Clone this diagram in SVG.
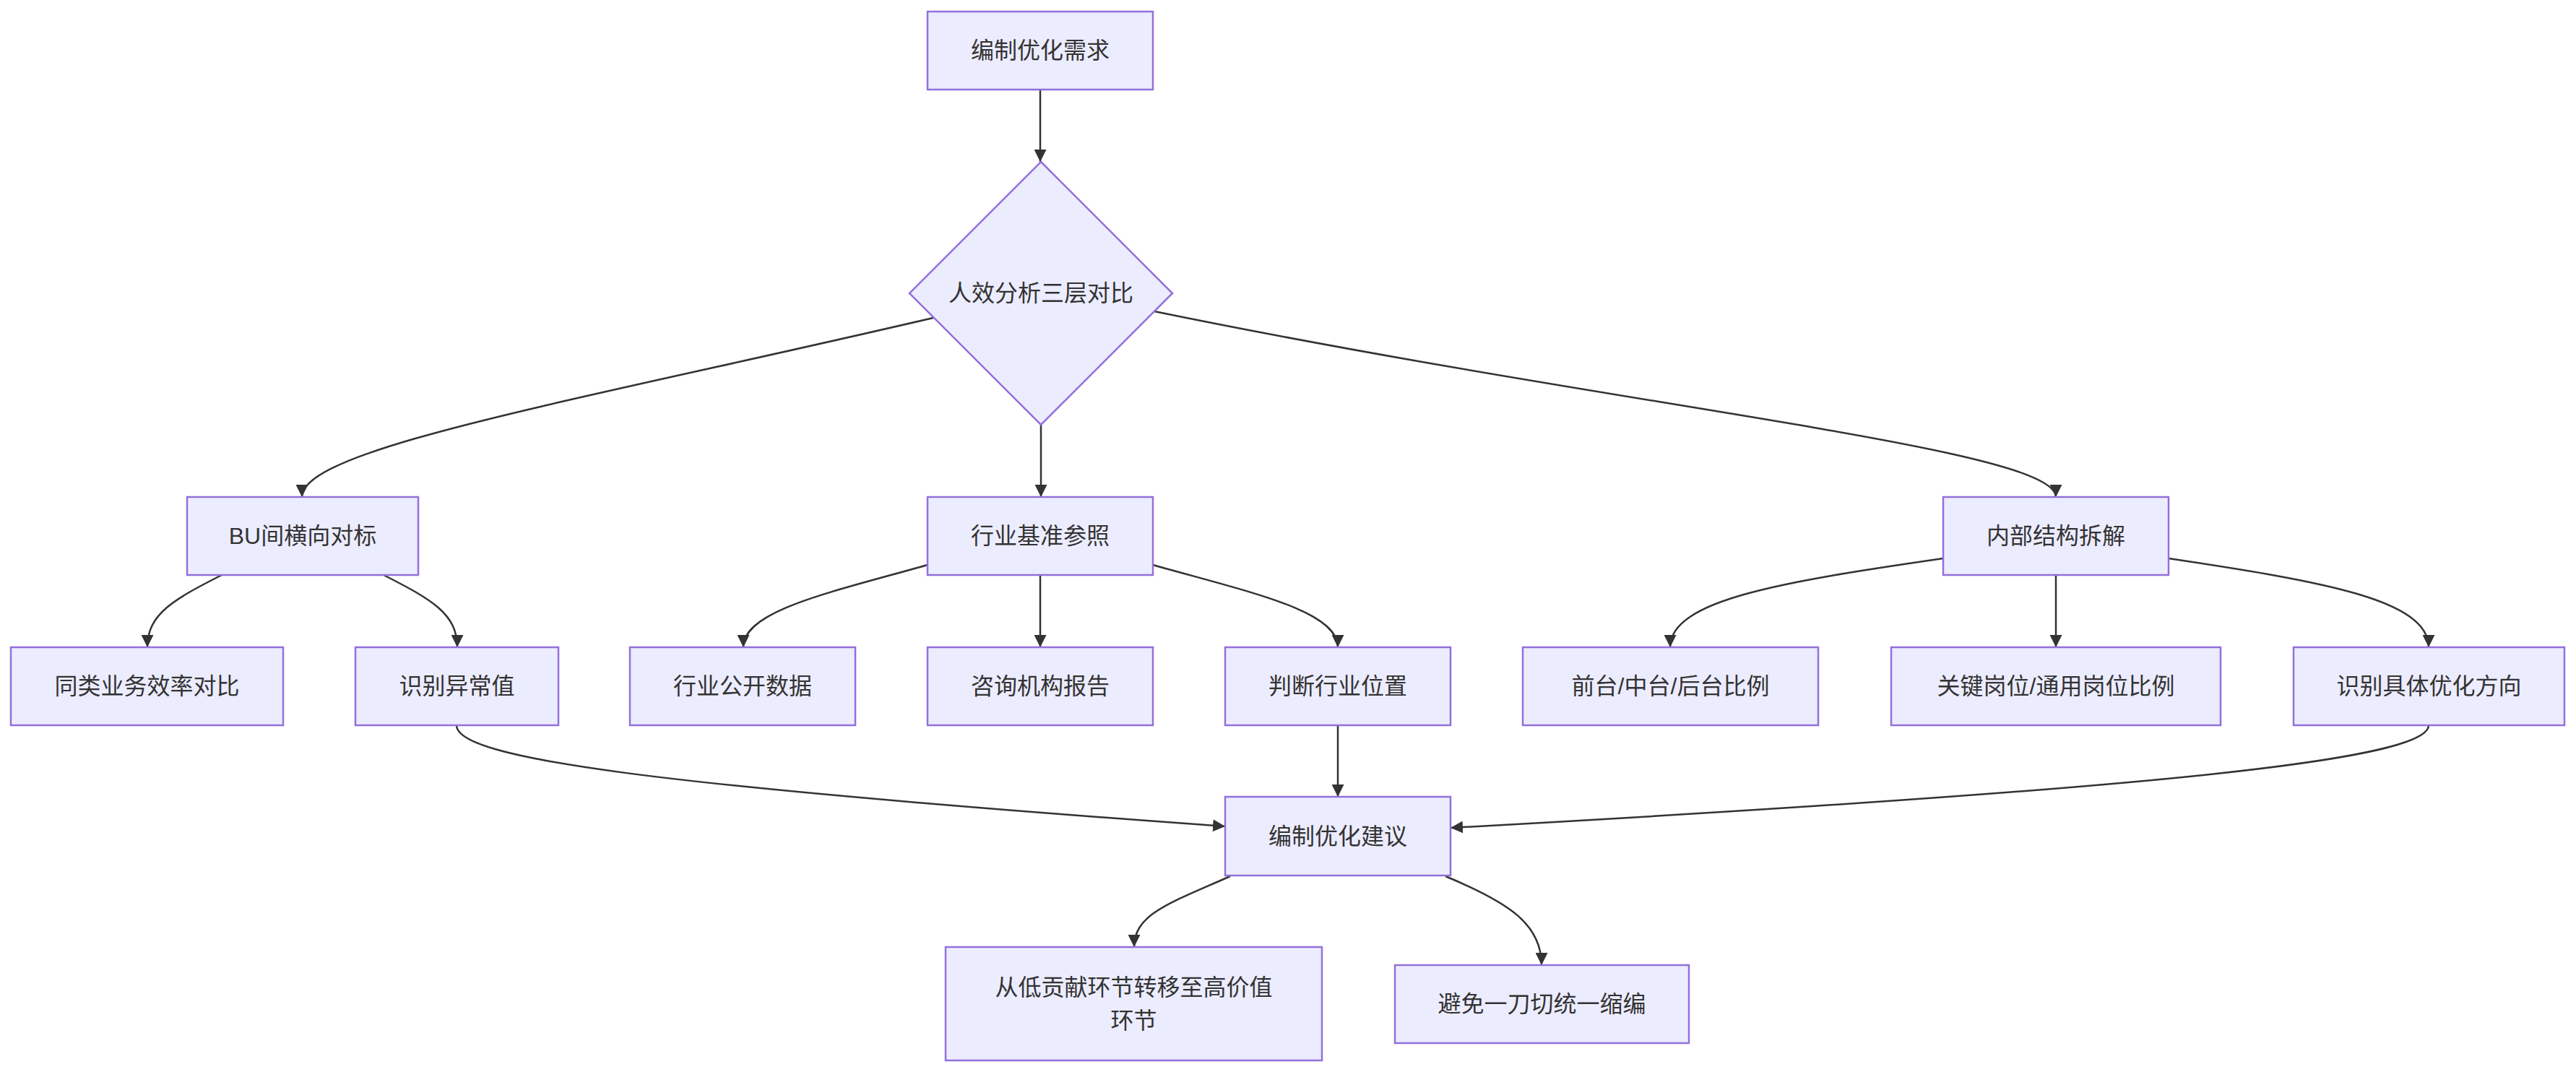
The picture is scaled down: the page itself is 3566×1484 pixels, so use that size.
<svg xmlns="http://www.w3.org/2000/svg" width="3566" height="1484" viewBox="0 0 3566 1484">
<style>
.node rect, .node polygon { fill: #ECECFF; stroke: #9370DB; stroke-width: 2.5; }
.node text { font-family: "Liberation Sans", "Noto Sans CJK SC", sans-serif; font-size: 32px; fill: #333333; text-anchor: middle; dominant-baseline: central; }
.edges path { fill: none; stroke: #333333; stroke-width: 2.5; marker-end: url(#arrow); }
</style>
<defs>
<marker id="arrow" viewBox="0 0 10 10" refX="10" refY="5" markerUnits="userSpaceOnUse" markerWidth="17" markerHeight="17" orient="auto">
<path d="M0,0 L10,5 L0,10 z" fill="#333333"/>
</marker>
</defs>
<rect width="3566" height="1484" fill="#ffffff"/>
<g class="edges">
<path d="M1440,124 L1440,224"/>
<path d="M1292,440 C800,555 418,620 418,688"/>
<path d="M1441,588 L1441,688"/>
<path d="M1598,431 C2250,565 2846,620 2846,688"/>
<path d="M307,796 C240,830 204,850 204,896"/>
<path d="M531,796 C598,830 633,850 633,896"/>
<path d="M1284,782 C1150,820 1029,845 1029,896"/>
<path d="M1440,796 L1440,896"/>
<path d="M1596,782 C1730,820 1852,845 1852,896"/>
<path d="M2690,773 C2470,805 2312,830 2312,896"/>
<path d="M2846,796 L2846,896"/>
<path d="M3002,773 C3215,805 3362,830 3362,896"/>
<path d="M632,1004 C632,1050 900,1087 1696,1144"/>
<path d="M1852,1004 L1852,1103"/>
<path d="M3362,1004 C3362,1050 3024,1090 2008,1146"/>
<path d="M1703,1213 C1620,1250 1570,1265 1570,1311"/>
<path d="M2001,1213 C2090,1250 2134,1280 2134,1336"/>
</g>
<g id="n1" class="node"><rect x="1284" y="16" width="312" height="108"/><text x="1440" y="70">编制优化需求</text></g>
<g id="n2" class="node"><polygon points="1441,224 1623,406 1441,588 1259,406"/><text x="1441" y="406">人效分析三层对比</text></g>
<g id="n3" class="node"><rect x="259" y="688" width="320" height="108"/><text x="419" y="742">BU间横向对标</text></g>
<g id="n4" class="node"><rect x="1284" y="688" width="312" height="108"/><text x="1440" y="742">行业基准参照</text></g>
<g id="n5" class="node"><rect x="2690" y="688" width="312" height="108"/><text x="2846" y="742">内部结构拆解</text></g>
<g id="n6" class="node"><rect x="15" y="896" width="377" height="108"/><text x="203.5" y="950">同类业务效率对比</text></g>
<g id="n7" class="node"><rect x="492" y="896" width="281" height="108"/><text x="632.5" y="950">识别异常值</text></g>
<g id="n8" class="node"><rect x="872" y="896" width="312" height="108"/><text x="1028" y="950">行业公开数据</text></g>
<g id="n9" class="node"><rect x="1284" y="896" width="312" height="108"/><text x="1440" y="950">咨询机构报告</text></g>
<g id="n10" class="node"><rect x="1696" y="896" width="312" height="108"/><text x="1852" y="950">判断行业位置</text></g>
<g id="n11" class="node"><rect x="2108" y="896" width="409" height="108"/><text x="2312.5" y="950">前台/中台/后台比例</text></g>
<g id="n12" class="node"><rect x="2618" y="896" width="456" height="108"/><text x="2846" y="950">关键岗位/通用岗位比例</text></g>
<g id="n13" class="node"><rect x="3175" y="896" width="375" height="108"/><text x="3362.5" y="950">识别具体优化方向</text></g>
<g id="n14" class="node"><rect x="1696" y="1103" width="312" height="109"/><text x="1852" y="1157.5">编制优化建议</text></g>
<g id="n15" class="node"><rect x="1309" y="1311" width="521" height="157"/><text x="1569.5" y="1367">从低贡献环节转移至高价值</text><text x="1569.5" y="1413">环节</text></g>
<g id="n16" class="node"><rect x="1931" y="1336" width="407" height="108"/><text x="2134.5" y="1390">避免一刀切统一缩编</text></g>
</svg>
